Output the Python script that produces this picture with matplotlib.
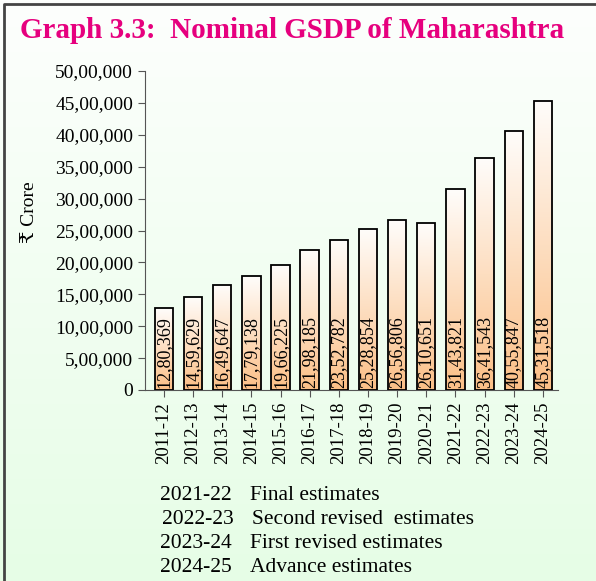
import matplotlib.pyplot as plt
import numpy as np
from matplotlib.colors import LinearSegmentedColormap

years = ['2011-12', '2012-13', '2013-14', '2014-15', '2015-16', '2016-17', '2017-18',
         '2018-19', '2019-20', '2020-21', '2021-22', '2022-23', '2023-24', '2024-25']
gsdp = [1280369, 1459629, 1649647, 1779138, 1966225, 2198185, 2352782,
        2528854, 2656806, 2610651, 3143821, 3641543, 4055847, 4531518]
gsdp_labels = ['12,80,369', '14,59,629', '16,49,647', '17,79,138', '19,66,225', '21,98,185',
               '23,52,782', '25,28,854', '26,56,806', '26,10,651', '31,43,821', '36,41,543',
               '40,55,847', '45,31,518']
yticks = [0, 500000, 1000000, 1500000, 2000000, 2500000, 3000000,
          3500000, 4000000, 4500000, 5000000]
ytick_labels = ['0', '5,00,000', '10,00,000', '15,00,000', '20,00,000', '25,00,000',
                '30,00,000', '35,00,000', '40,00,000', '45,00,000', '50,00,000']
notes = [('2021-22', 'Final estimates'),
         ('2022-23', 'Second revised  estimates'),
         ('2023-24', 'First revised estimates'),
         ('2024-25', 'Advance estimates')]

plt.rcParams['font.family'] = ['Liberation Serif', 'DejaVu Serif', 'DejaVu Sans']

fig = plt.figure(figsize=(5.96, 5.81), dpi=100)

# page background: white fading to pale green, with a dark frame on left/top
bg = fig.add_axes([0, 0, 1, 1], zorder=-10)
bg_cmap = LinearSegmentedColormap.from_list('bg', ['#fdfffd', '#e6fde6'])
bg.imshow(np.linspace(0, 1, 256).reshape(-1, 1), cmap=bg_cmap, aspect='auto',
          extent=[0, 1, 0, 1])
bg.plot([0.006, 0.006, 1.0], [0.0, 0.993, 0.993], color='#444444', lw=2)
bg.set_xlim(0, 1)
bg.set_ylim(0, 1)
bg.axis('off')

ax = fig.add_axes([145 / 596, 1 - 390 / 581, 413 / 596, 319 / 581])
ax.patch.set_alpha(0)

x = np.arange(len(years))
bars = ax.bar(x, gsdp, width=0.63, facecolor='none', edgecolor='black', lw=1.3, zorder=3)

bar_cmap = LinearSegmentedColormap.from_list('bar', ['#fbbf86', '#fffdfb'])
grad = np.linspace(0, 1, 256).reshape(-1, 1)
for b in bars:
    im = ax.imshow(grad, cmap=bar_cmap, origin='lower', aspect='auto',
                   extent=[b.get_x(), b.get_x() + b.get_width(), 0, b.get_height()],
                   zorder=2)
    im.set_clip_path(b)

for xi, lab in zip(x, gsdp_labels):
    ax.text(xi, 30000, lab, rotation=90, ha='center', va='bottom', fontsize=13, zorder=4)

ax.set_xlim(-0.65, 13.52)
ax.set_ylim(0, 5000000)
ax.set_yticks(yticks)
ax.set_yticklabels(ytick_labels, fontsize=14)
ax.set_xticks(x)
ax.set_xticklabels(years, rotation=90, fontsize=13.5)
for s in ['top', 'right']:
    ax.spines[s].set_visible(False)
for s in ['left', 'bottom']:
    ax.spines[s].set_color('#555555')
ax.tick_params(color='#555555', length=5)
fig.text(30 / 596, 1 - 212 / 581, '₹ Crore', fontsize=14, rotation=90,
         ha='center', va='center')

fig.text(20 / 596, 1 - 30 / 581, 'Graph 3.3:  Nominal GSDP of Maharashtra', color='#e6007e',
         fontsize=21, fontweight='bold', va='center', ha='left')

for i, (yr, desc) in enumerate(notes):
    yy = 1 - (495 + 24 * i) / 581
    dx = 2 if i == 1 else 0
    fig.text((160 + dx) / 596, yy, yr, fontsize=15.5, va='center')
    fig.text((250 + dx) / 596, yy, desc, fontsize=15.5, va='center')

fig.savefig('out.png', dpi=100)
